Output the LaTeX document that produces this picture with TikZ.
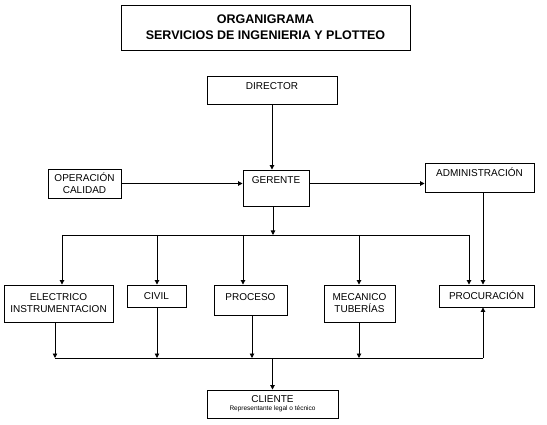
\documentclass[tikz,border=0pt]{standalone}
\usepackage{fontspec}
\setmainfont{Liberation Sans}
\usepackage{tikz}
\usetikzlibrary{arrows.meta,positioning}

\begin{document}
\begin{tikzpicture}[x=1pt, y=-1pt,
    box/.style={draw, line width=0.9pt, inner sep=0pt, align=center,
        font=\fontsize{10}{12}\selectfont},
    topbox/.style={box, text height=7.2pt, text depth=#1},
    link/.style={line width=0.9pt, -{Triangle[length=4.5pt,width=4.5pt]}},
    bus/.style={line width=0.9pt}]
            \useasboundingbox (0,0) rectangle (547,425);

            % --- Title ---
            \node[box, minimum width=289pt, minimum height=45pt,
                font=\fontsize{12.5}{16}\selectfont\bfseries] (titulo) at (265.5,27.5)
                {ORGANIGRAMA\\SERVICIOS DE INGENIERIA Y PLOTTEO};

            % --- Top levels ---
            \node[topbox=8.8pt, minimum width=130pt, minimum height=28pt] (director) at (272,90) {DIRECTOR};
            \node[topbox=15.8pt, minimum width=66pt, minimum height=36pt] (gerente) at (276,188) {GERENTE};
            \node[box, minimum width=73pt, minimum height=29pt] (calidad) at (84.5,183.5) {OPERACIÓN\\CALIDAD};
            \node[topbox=9.8pt, minimum width=109pt, minimum height=29pt] (admin) at (479.5,177.5) {ADMINISTRACIÓN};

            % --- Departments ---
            \node[box, minimum width=109pt, minimum height=37pt] (electrico) at (58.5,303.5) {ELECTRICO\\INSTRUMENTACION};
            \node[topbox=0pt, minimum width=59pt, minimum height=22pt] (civil) at (156.5,296) {CIVIL};
            \node[topbox=6.8pt, minimum width=73pt, minimum height=30pt] (proceso) at (250.5,300) {PROCESO};
            \node[box, minimum width=71pt, minimum height=37pt] (mecanico) at (359.5,303.5) {MECANICO\\TUBERÍAS};
            \node[topbox=0pt, minimum width=95pt, minimum height=22pt] (procura) at (486.5,296) {PROCURACIÓN};

            % --- Client ---
            \node[box, minimum width=131pt, minimum height=28pt] (cliente) at (272.5,404)
                {CLIENTE\\[-4pt]{\fontsize{6.5}{7}\selectfont Representante legal o técnico}};

            % Upper links
            \draw[link] (director.south) -- (director.south |- gerente.north);
            \draw[link] (calidad.east) -- (calidad.east -| gerente.west);
            \draw[link] (gerente.east |- calidad.east) -- (admin.west |- calidad.east);

            % Upper bus
            \coordinate (gbus) at (273,235);
            \coordinate (u1) at (62,235);
            \coordinate (u2) at (157,235);
            \coordinate (u3) at (243,235);
            \coordinate (u4) at (359,235);
            \coordinate (u5) at (469,235);
            \coordinate (adm) at (483,235);
            \draw[link] (gbus |- gerente.south) -- (gbus);
            \draw[bus] (u1) -- (u5);
            \draw[link] (u1) -- (u1 |- electrico.north);
            \draw[link] (u2) -- (u2 |- civil.north);
            \draw[link] (u3) -- (u3 |- proceso.north);
            \draw[link] (u4) -- (u4 |- mecanico.north);
            \draw[link] (u5) -- (u5 |- procura.north);
            \draw[link] (adm |- admin.south) -- (adm |- procura.north);

            % Lower bus
            \coordinate (l1) at (55,358);
            \coordinate (l2) at (157,358);
            \coordinate (l3) at (252,358);
            \coordinate (l4) at (359,358);
            \coordinate (l5) at (483,358);
            \draw[bus] (l1) -- (l5);
            \draw[link] (l1 |- electrico.south) -- (l1);
            \draw[link] (l2 |- civil.south) -- (l2);
            \draw[link] (l3 |- proceso.south) -- (l3);
            \draw[link] (l4 |- mecanico.south) -- (l4);
            \draw[link] (l5) -- (l5 |- procura.south);
            \draw[link] (cliente.north |- l1) -- (cliente.north);
\end{tikzpicture}
\end{document}
